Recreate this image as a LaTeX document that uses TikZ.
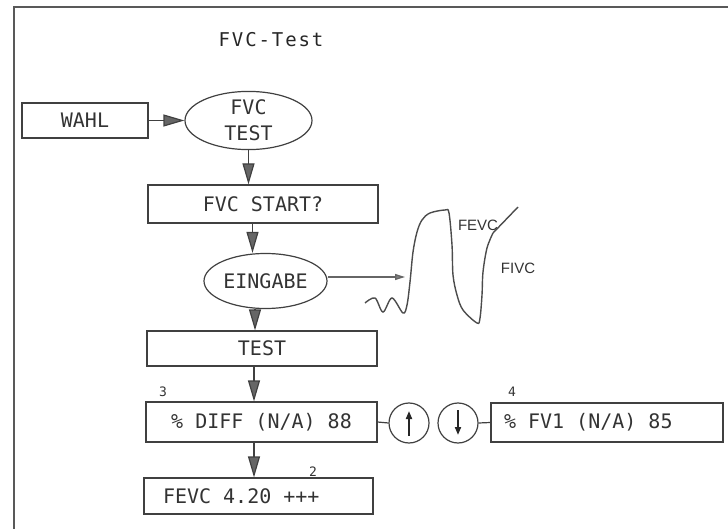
\documentclass[tikz,border=0pt]{standalone}
\usepackage{fontspec}
\newfontfamily\monof{DejaVu Sans Mono}
\newfontfamily\sansf{Liberation Sans}
\usetikzlibrary{shapes.geometric,arrows.meta}
\begin{document}
\begin{tikzpicture}[x=1pt,y=-1pt,
  ink/.style={draw=black!75, line width=1.2pt},
  boxtext/.style={font=\monof\fontsize{20}{26}\selectfont, text=black!80},
  boxn/.style={ink, rectangle, inner sep=0pt, boxtext},
  elln/.style={ink, ellipse, inner sep=0pt, boxtext, align=center},
  circn/.style={ink, circle, inner sep=0pt, minimum size=40pt},
  flow/.style={draw=black!75, line width=1.2pt, -{Triangle[length=21pt,width=12pt,fill=black!60]}},
  thinflow/.style={draw=black!60, line width=1.3pt, -{Triangle[length=10pt,width=6pt,fill=black!50]}},
  inarrow/.style={draw=black!85, line width=1.8pt, -{Triangle[length=8pt,width=6pt,fill=black!85]}},
  numlab/.style={font=\monof\fontsize{13}{15}\selectfont, text=black!80},
  curvelab/.style={font=\sansf\fontsize{15}{18}\selectfont, text=black!80},
  curvest/.style={draw=black!70, line width=1.4pt}
]
\useasboundingbox (0,0) rectangle (728,529);
% frame
\draw[draw=black!65, line width=1.5pt] (728,7) -- (14,7) -- (14,529);
% title
\node[font=\monof\fontsize{19}{22}\selectfont\addfontfeature{LetterSpace=10}, text=black!85] (title) at (271,40) {FVC-Test};
% nodes
\node[boxn, minimum width=126pt, minimum height=35pt] (wahl) at (85,120.5) {WAHL};
\node[elln, minimum width=127pt, minimum height=55pt] (fvct) at (248.5,120.5) {FVC\\TEST};
\node[boxn, minimum width=230pt, minimum height=38pt] (start) at (263,204) {FVC START?};
\node[elln, minimum width=123pt, minimum height=55pt] (eing) at (265.5,281) {EINGABE};
\node[boxn, minimum width=230pt, minimum height=35pt] (test) at (262,348.5) {TEST};
\node[boxn, minimum width=231pt, minimum height=40pt] (diff) at (261.5,422) {\% DIFF (N/A) 88};
\node[circn] (upc) at (409,423) {};
\node[circn] (dnc) at (458,423) {};
\node[boxn, minimum height=39pt, inner xsep=13pt] (fv1) at (607,422.5) {\makebox[206pt][l]{\% FV1 (N/A) 85}};
\node[boxn, minimum height=36pt, inner xsep=19pt] (fevc) at (258.5,496) {\makebox[191pt][l]{FEVC 4.20 +++}};
% numbers
\node[numlab] (n3) at (163,392) {3};
\node[numlab] (n4) at (512,392) {4};
\node[numlab] (n2) at (313,472) {2};
% flow arrows
\draw[flow] (wahl.east) -- (fvct.west);
\draw[flow] (fvct.south) -- (fvct.south |- start.north);
\draw[flow] ([xshift=-13pt]start.south -| eing.north) -- ([xshift=-13pt]eing.north);
\draw[flow] ([xshift=-10.5pt]eing.south) -- ([xshift=-10.5pt]eing.south |- test.north);
\draw[flow] ([xshift=-8pt]test.south) -- ([xshift=-8pt]test.south |- diff.north);
\draw[flow] ([xshift=-7.5pt]diff.south) -- ([xshift=-7.5pt]diff.south |- fevc.north);
% connectors to circles
\draw[ink] (diff.east) -- (upc.west);
\draw[ink] (dnc.east) -- (fv1.west);
\draw[inarrow] ([yshift=-13pt]upc.center) -- ([yshift=12pt]upc.center);
\draw[inarrow] ([yshift=13pt]dnc.center) -- ([yshift=-12pt]dnc.center);
% curve
\coordinate (cv) at (405,277);
\draw[thinflow] ([yshift=4pt]eing.east) -- (cv);
\draw[curvest] plot[smooth, tension=0.55] coordinates {
 (365,303) (375,298) (383,312) (392,298) (403,313) (407,305) (410,282)
 (413,252) (417,232) (422,220) (430,213) (445,210) (449,213) (452,245)
 (453,275) (457,295) (463,310) (477,323) (480,318) (482,295) (483,272)
 (487,248) (493,233)};
\draw[curvest] (493,233) -- (518,207);
\node[curvelab] (lfevc) at (478,225) {FEVC};
\node[curvelab] (lfivc) at (518,268) {FIVC};
\end{tikzpicture}
\end{document}
